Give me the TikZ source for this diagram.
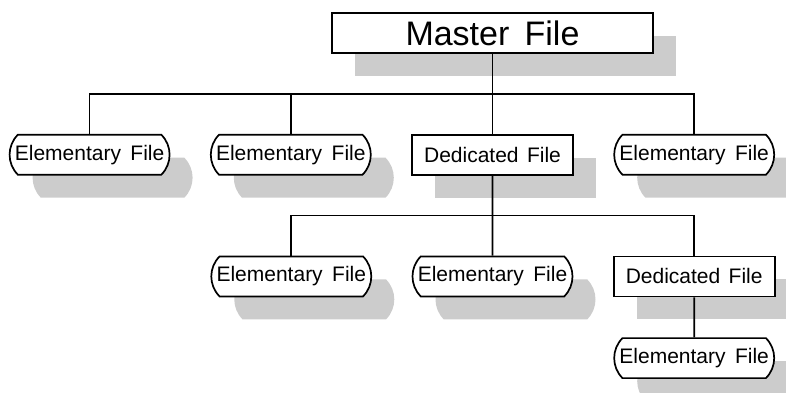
\documentclass[tikz,border=0pt]{standalone}
\usepackage{fontspec}
\setmainfont{Liberation Sans}
\usepackage{xcolor}
\usepackage{tikz}
\usetikzlibrary{positioning,shapes.misc,shadows}

\begin{document}
\begin{tikzpicture}[
  node distance=80pt and 39.5pt,
  dropped/.style={drop shadow={shadow xshift=23pt, shadow yshift=-23pt, fill=black!20, opacity=1}},
  mainbox/.style={draw, line width=1.7pt, fill=white, minimum width=321pt, minimum height=40pt, inner sep=0pt, font=\fontsize{34}{38}\selectfont, dropped},
  ded/.style={draw, line width=1.7pt, fill=white, minimum width=161pt, minimum height=40pt, inner sep=0pt, font=\fontsize{21}{24}\selectfont, dropped},
  elem/.style={ded, rounded rectangle, rounded rectangle arc length=90, minimum width=160pt},
  link/.style={line width=1.7pt}]
  \useasboundingbox (-492.5pt,33pt) rectangle (293.5pt,-359pt);
  \node[mainbox] (mst) {Master\hspace{.45em}File};
  \node[ded, below=of mst] (d1) {Dedicated\hspace{.4em}File};
  \node[elem, left=of d1] (e2) {Elementary\hspace{.45em}File};
  \node[elem, left=of e2] (e1) {Elementary\hspace{.45em}File};
  \node[elem, right=of d1] (e4) {Elementary\hspace{.45em}File};
  \node[elem, below=of d1] (e6) {Elementary\hspace{.45em}File};
  \node[elem, left=of e6] (e5) {Elementary\hspace{.45em}File};
  \node[ded, right=of e6] (d2) {Dedicated\hspace{.4em}File};
  \node[elem, below=40pt of d2] (e7) {Elementary\hspace{.45em}File};
  \coordinate[below=40pt of mst] (b1);
  \coordinate[below=40pt of d1] (b2);
  \draw[link] (mst) -- (d1);
  \draw[link] (e1.north) |- (b1) -| (e4.north);
  \draw[link] (e2.north) |- (b1);
  \draw[link] (d1) -- (e6);
  \draw[link] (e5.north) |- (b2) -| (d2.north);
  \draw[link] (d2) -- (e7);
\end{tikzpicture}
\end{document}
